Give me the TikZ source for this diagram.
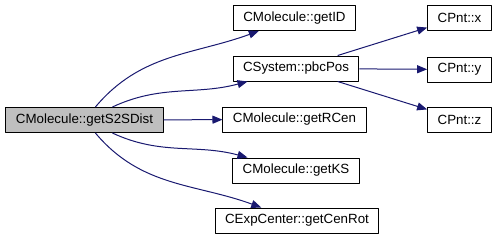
\documentclass[tikz,border=0pt]{standalone}
\usepackage{fontspec}
\setmainfont{Liberation Sans}
\usetikzlibrary{arrows.meta}
\definecolor{edgeblue}{HTML}{191970}
\begin{document}
\begin{tikzpicture}[x=0.75pt,y=-0.75pt,>={Triangle[length=7.5pt,width=6pt]}, font=\fontsize{10}{12}\selectfont, line join=round]
\tikzset{fn/.style={draw,line width=0.75pt,rectangle,minimum height=18.75pt,inner xsep=7.5pt,inner ysep=0pt},
  call/.style={->,edgeblue,line width=0.75pt}}
\useasboundingbox (0,0) rectangle (499,240);
% caller and callees
\node[fn,fill=black!25] (main) at (84.5,120) {CMolecule::getS2SDist};
\node[fn] (getID) at (294.5,18) {CMolecule::getID};
\node[fn] (pbcPos) at (296,68.5) {CSystem::pbcPos};
\node[fn] (getRCen) at (294.5,119.5) {CMolecule::getRCen};
\node[fn] (getKS) at (296,170.5) {CMolecule::getKS};
\node[fn] (getCenRot) at (297,220.5) {CExpCenter::getCenRot};
\node[fn] (pntx) at (459.5,17.5) {CPnt::x};
\node[fn] (pnty) at (459.5,69.5) {CPnt::y};
\node[fn] (pntz) at (459.5,119.5) {CPnt::z};
\draw[call] (main) to[out=50,in=200] (getID);
\draw[call] (main) to[out=25,in=195] (pbcPos);
\draw[call] (main) -- (getRCen);
\draw[call] (main) to[out=-25,in=165] (getKS);
\draw[call] (main) to[out=-50,in=160] (getCenRot);
\draw[call] (pbcPos) -- (pntx);
\draw[call] (pbcPos) -- (pnty);
\draw[call] (pbcPos) -- (pntz);
\end{tikzpicture}
\end{document}
